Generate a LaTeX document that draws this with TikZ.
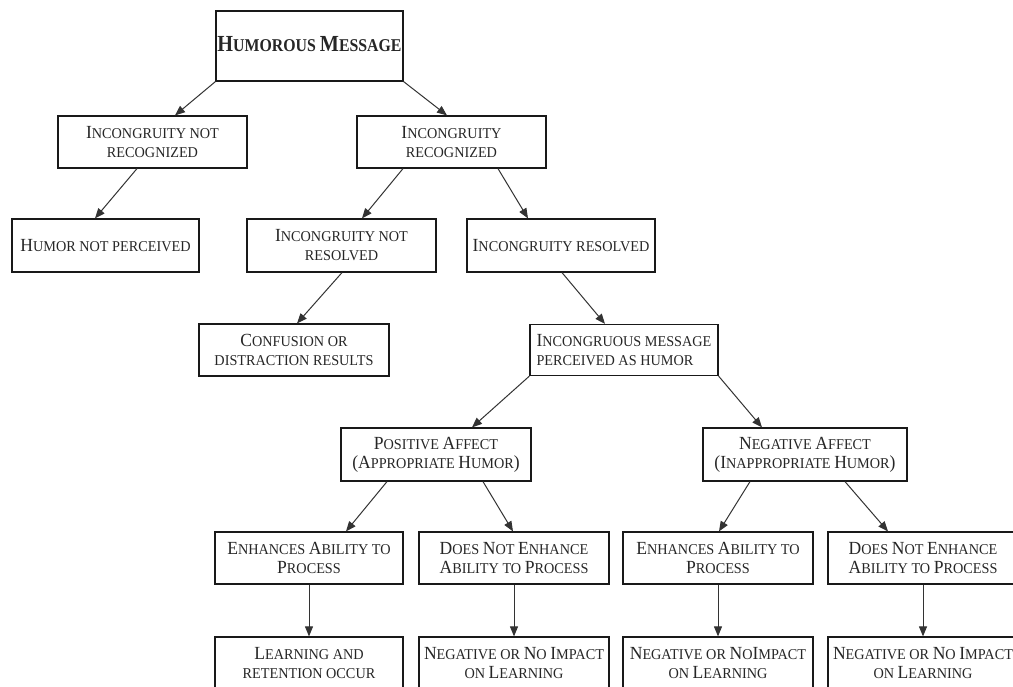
\documentclass[tikz,border=0pt]{standalone}
\usepackage{fontspec}
\setmainfont{Liberation Serif}[FakeStretch=0.95]
\newfontfamily\titlefont{Liberation Serif}[FakeStretch=0.88]
\usetikzlibrary{arrows.meta}
\newcommand\BC[1]{{\fontsize{18.5}{20}\selectfont #1}}
\newcommand\TB[1]{{\fontsize{23}{24}\selectfont #1}}
\begin{document}
\begin{tikzpicture}[x=1pt,y=-1pt,
  box/.style={draw=black!90, line width=1.2pt, inner sep=0pt, align=center,
    font=\fontsize{15}{19}\selectfont, text=black!85},
  sz/.style 2 args={minimum width=#1pt, minimum height=#2pt},
  arr/.style={draw=black!80, line width=1pt, -{Triangle[length=10pt,width=8pt]}}]
\clip (0,0) rectangle (1013,687);
\fill[white] (0,0) rectangle (1013,687);

\node[box, sz={187}{70}, font=\titlefont\bfseries\fontsize{18}{20}\selectfont] (hm) at (309.5,46)
  {\raisebox{5pt}{\TB{H}UMOROUS \TB{M}ESSAGE}};
\node[box, sz={189}{52}] (inr) at (152.5,142) {\BC{I}NCONGRUITY NOT\\RECOGNIZED};
\node[box, sz={189}{52}] (ir) at (451.5,142) {\BC{I}NCONGRUITY\\RECOGNIZED};
\node[box, sz={187}{53}] (hnp) at (105.5,245.5) {\BC{H}UMOR NOT PERCEIVED};
\node[box, sz={189}{53}] (irn) at (341.5,245.5) {\BC{I}NCONGRUITY NOT\\RESOLVED};
\node[box, sz={188}{53}] (ires) at (561,245.5) {\BC{I}NCONGRUITY RESOLVED};
\node[box, sz={190}{52}] (conf) at (294,350) {\BC{C}ONFUSION OR\\DISTRACTION RESULTS};
\node[box, sz={188}{51}, align=left] (imsg) at (624,350) {\BC{I}NCONGRUOUS MESSAGE\\PERCEIVED AS HUMOR};
\node[box, sz={190}{53}] (pos) at (436,454.5) {\BC{P}OSITIVE \BC{A}FFECT\\\BC{(A}PPROPRIATE \BC{H}UMOR\BC{)}};
\node[box, sz={204}{53}] (neg) at (805,454.5) {\BC{N}EGATIVE \BC{A}FFECT\\\BC{(I}NAPPROPRIATE \BC{H}UMOR\BC{)}};

\node[box, sz={188}{52}] (e1) at (309,558) {\BC{E}NHANCES \BC{A}BILITY TO\\\BC{P}ROCESS};
\node[box, sz={190}{52}] (d1) at (514,558) {\BC{D}OES \BC{N}OT \BC{E}NHANCE\\\BC{A}BILITY TO \BC{P}ROCESS};
\node[box, sz={190}{52}] (e2) at (718,558) {\BC{E}NHANCES \BC{A}BILITY TO\\\BC{P}ROCESS};
\node[box, sz={190}{52}] (d2) at (923,558) {\BC{D}OES \BC{N}OT \BC{E}NHANCE\\\BC{A}BILITY TO \BC{P}ROCESS};

\node[box, sz={188}{52}] (l1) at (309,663) {\BC{L}EARNING AND\\RETENTION OCCUR};
\node[box, sz={190}{52}] (l2) at (514,663) {\BC{N}EGATIVE OR \BC{N}O \BC{I}MPACT\\ON \BC{L}EARNING};
\node[box, sz={190}{52}] (l3) at (718,663) {\BC{N}EGATIVE OR \BC{N}O\BC{I}MPACT\\ON \BC{L}EARNING};
\node[box, sz={190}{52}] (l4) at (923,663) {\BC{N}EGATIVE OR \BC{N}O \BC{I}MPACT\\ON \BC{L}EARNING};

\draw[arr] (hm.south west) -- ([xshift=22.5pt]inr.north);
\draw[arr] (hm.south east) -- ([xshift=-4.5pt]ir.north);
\draw[arr] ([xshift=-15.5pt]inr.south) -- ([xshift=-10.5pt]hnp.north);
\draw[arr] ([xshift=-48.5pt]ir.south) -- ([xshift=20.5pt]irn.north);
\draw[arr] ([xshift=46.5pt]ir.south) -- ([xshift=-33pt]ires.north);
\draw[arr] ([xshift=0.5pt]irn.south) -- ([xshift=3pt]conf.north);
\draw[arr] ([xshift=1pt]ires.south) -- ([xshift=-19pt]imsg.north);
\draw[arr] (imsg.south west) -- ([xshift=36pt]pos.north);
\draw[arr] (imsg.south east) -- ([xshift=-43pt]neg.north);
\draw[arr] ([xshift=-49pt]pos.south) -- ([xshift=37pt]e1.north);
\draw[arr] ([xshift=47pt]pos.south) -- ([xshift=-1pt]d1.north);
\draw[arr] ([xshift=-55pt]neg.south) -- ([xshift=1pt]e2.north);
\draw[arr] ([xshift=40pt]neg.south) -- ([xshift=-35pt]d2.north);
\draw[arr] (e1.south) -- (l1.north);
\draw[arr] (d1.south) -- (l2.north);
\draw[arr] (e2.south) -- (l3.north);
\draw[arr] (d2.south) -- (l4.north);
\end{tikzpicture}
\end{document}
